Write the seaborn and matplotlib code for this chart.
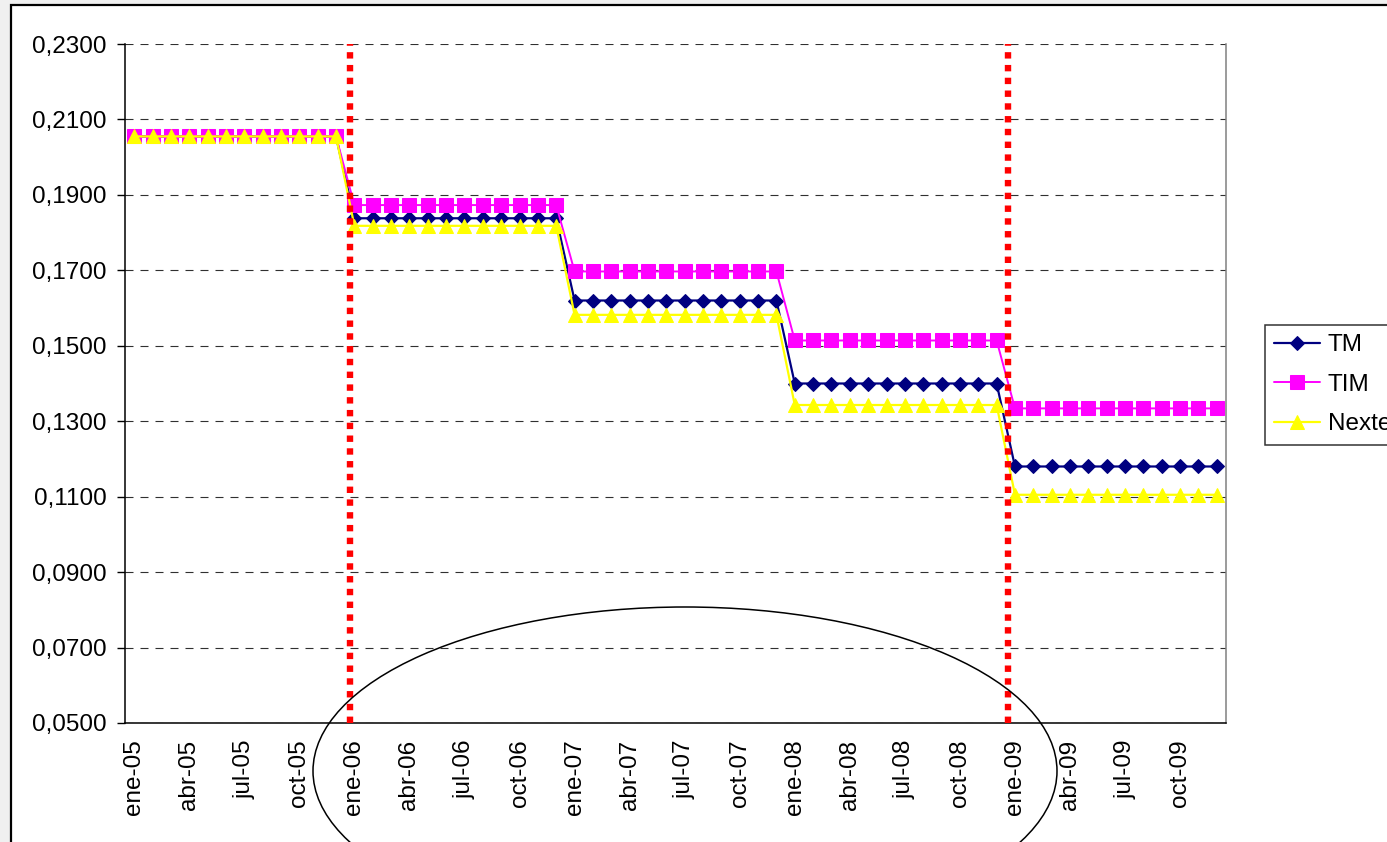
import numpy as np
import pandas as pd
import matplotlib
matplotlib.use('Agg')
import matplotlib.pyplot as plt
import seaborn as sns
from matplotlib.patches import Ellipse, Rectangle
from matplotlib.ticker import FuncFormatter

# monthly categories ene-05 .. dic-09
months = ['ene', 'feb', 'mar', 'abr', 'may', 'jun', 'jul', 'ago', 'sep', 'oct', 'nov', 'dic']
years = ['05', '06', '07', '08', '09']
periods = [m + '-' + y for y in years for m in months]

# tick labels shown (every 3rd month)
tick_labels = ['ene-05', 'abr-05', 'jul-05', 'oct-05',
               'ene-06', 'abr-06', 'jul-06', 'oct-06',
               'ene-07', 'abr-07', 'jul-07', 'oct-07',
               'ene-08', 'abr-08', 'jul-08', 'oct-08',
               'ene-09', 'abr-09', 'jul-09', 'oct-09']

# series values (one value per month)
tm = [0.2055] * 12 + [0.1838] * 12 + [0.1620] * 12 + [0.1400] * 12 + [0.1180] * 12
tim = [0.2055] * 12 + [0.1873] * 12 + [0.1697] * 12 + [0.1514] * 12 + [0.1334] * 12
nextel = [0.2055] * 12 + [0.1818] * 12 + [0.1582] * 12 + [0.1343] * 12 + [0.1105] * 12

# red dotted markers of regulatory change (category position)
cut_positions = [11.76, 47.6]

df = pd.DataFrame({'idx': np.arange(len(periods)), 'periodo': periods,
                   'TM': tm, 'TIM': tim, 'Nextel': nextel})

sns.set_style('white')
plt.rcParams['font.family'] = ['Liberation Sans', 'DejaVu Sans']
plt.rcParams['text.color'] = 'black'
plt.rcParams['xtick.color'] = 'black'
plt.rcParams['ytick.color'] = 'black'

fig = plt.figure(figsize=(13.87, 8.42), dpi=100, facecolor='#f0f0f0')

# white chart area with black frame (right and bottom edges fall outside)
frame = Rectangle((11 / 1387, -0.1), 1.2, 1.1 - 5 / 842, transform=fig.transFigure,
                  facecolor='white', edgecolor='black', linewidth=1.6, zorder=-5)
fig.patches.append(frame)

ax = fig.add_axes([125 / 1387, 1 - 723 / 842, (1226 - 125) / 1387, (723 - 44) / 842])
ax.set_zorder(1)
ax.set_facecolor('white')

sns.lineplot(data=df, x='idx', y='TM', ax=ax, color='#000080', linewidth=1.6,
             marker='D', markersize=7.5, markeredgecolor='#000080', label='TM')
sns.lineplot(data=df, x='idx', y='TIM', ax=ax, color='#ff00ff', linewidth=1.4,
             marker='s', markersize=9.5, markeredgecolor='#ff00ff', label='TIM')
sns.lineplot(data=df, x='idx', y='Nextel', ax=ax, color='#ffff00', linewidth=1.6,
             marker='^', markersize=10, markeredgecolor='#ffff00', label='Nextel')

for xc in cut_positions:
    ax.axvline(xc, color='#ff0000', linewidth=4.6, linestyle=(0, (1, 1)),
               dash_capstyle='butt', zorder=5)

ax.set_xlim(-0.5, len(periods) - 0.5)
ax.set_ylim(0.05, 0.23)
ax.set_yticks(np.arange(0.05, 0.2301, 0.02))
ax.yaxis.set_major_formatter(FuncFormatter(lambda v, p: ('%.4f' % v).replace('.', ',')))
ax.yaxis.grid(True, color='#303030', linestyle=(0, (7.2, 6.3)), linewidth=0.8)
ax.set_axisbelow(True)

ax.set_xticks(np.arange(0, len(periods), 3))
ax.set_xticklabels(tick_labels, rotation=90)
ax.set_xticks(np.arange(-0.5, len(periods), 3), minor=True)
ax.tick_params(axis='x', which='major', length=0, pad=12, labelsize=17.5)
ax.tick_params(axis='x', which='minor', length=6, width=1, color='black', direction='out')
ax.tick_params(axis='y', length=6, width=1, color='black', direction='out', pad=7, labelsize=17.5)
ax.tick_params(bottom=True, left=True)

ax.set_xlabel('')
ax.set_ylabel('')
for s in ['left', 'bottom']:
    ax.spines[s].set_color('black')
    ax.spines[s].set_linewidth(1.1)
ax.spines['top'].set_visible(False)
ax.spines['right'].set_color('#808080')
ax.spines['right'].set_linewidth(1.1)

handles, labels = ax.get_legend_handles_labels()
ax.get_legend().remove()
leg = fig.legend(handles, labels, loc='upper left',
                 bbox_to_anchor=(1265 / 1387, 1 - 325 / 842),
                 fontsize=17.5, frameon=True, fancybox=False, edgecolor='black',
                 handlelength=1.9, handletextpad=0.3, labelspacing=0.72,
                 borderpad=0.38, borderaxespad=0)
leg.get_frame().set_linewidth(1.1)

# hand-drawn ellipse highlight
ell = Ellipse((685 / 1387, 1 - 771 / 842), 744 / 1387, 328 / 842, transform=fig.transFigure,
              fill=False, edgecolor='black', linewidth=1.1, zorder=10)
fig.patches.append(ell)

fig.savefig('out.png', dpi=100, facecolor=fig.get_facecolor())
